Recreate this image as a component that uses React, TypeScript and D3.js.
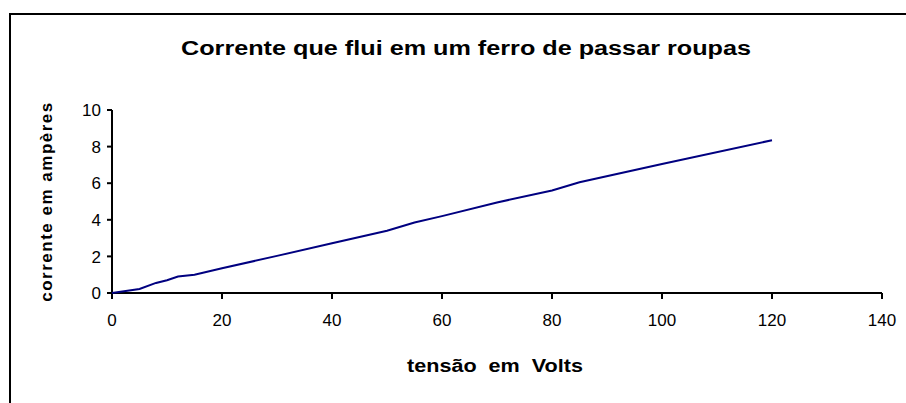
import React from "react";
import * as d3 from "d3";

const voltage = [0, 5, 8, 10, 12, 15, 20, 30, 40, 50, 55, 60, 70, 80, 85, 100, 120];
const current = [0, 0.22, 0.55, 0.7, 0.9, 1.0, 1.35, 2.03, 2.72, 3.4, 3.85, 4.2, 4.95, 5.6, 6.05, 7.05, 8.35];
const xTicks = [0, 20, 40, 60, 80, 100, 120, 140];
const yTicks = [0, 2, 4, 6, 8, 10];
const title = "Corrente que flui em um ferro de passar roupas";
const xTitle = "tensão  em  Volts";
const yTitle = "corrente em ampères";

export default function App() {
  const W = 906, H = 403;
  const x = d3.scaleLinear().domain([0, 140]).range([112, 882]);
  const y = d3.scaleLinear().domain([0, 10]).range([293, 110]);
  const pts = voltage.map((v, i) => [v, current[i]] as [number, number]);
  const line = d3.line<[number, number]>().x(d => x(d[0])).y(d => y(d[1]));
  const font = "'Liberation Sans', Arial, sans-serif";
  return (
    <svg width={W} height={H} style={{ position: "absolute", left: 0, top: 0 }} fontFamily={font}>
      <rect x={0} y={0} width={W} height={H} fill="#fff" />
      <rect x={10} y={14} width={900} height={400} fill="none" stroke="#000" strokeWidth={2} />
      <text x={466} y={55} textAnchor="middle" fontSize={20} fontWeight="bold" textLength={570} lengthAdjust="spacingAndGlyphs">{title}</text>
      <line x1={x(0)} x2={x(0)} y1={y(10)} y2={y(0)} stroke="#000" strokeWidth={2} />
      {yTicks.map(t => (
        <g key={t}>
          <line x1={x(0) - 5} x2={x(0)} y1={y(t)} y2={y(t)} stroke="#000" strokeWidth={2} />
          <text x={x(0) - 11} y={y(t)} dy="0.36em" textAnchor="end" fontSize={17}>{t}</text>
        </g>
      ))}
      <line x1={x(0)} x2={x(140)} y1={y(0)} y2={y(0)} stroke="#000" strokeWidth={2} />
      {xTicks.map(t => (
        <g key={t}>
          <line x1={x(t)} x2={x(t)} y1={y(0)} y2={y(0) + 6} stroke="#000" strokeWidth={2} />
          <text x={x(t)} y={y(0) + 33} textAnchor="middle" fontSize={17}>{t}</text>
        </g>
      ))}
      <text x={495} y={372} textAnchor="middle" fontSize={18} fontWeight="bold" textLength={176} lengthAdjust="spacingAndGlyphs" style={{ whiteSpace: "pre" }}>{xTitle}</text>
      <text transform={`translate(52,${(y(0) + y(10)) / 2}) rotate(-90)`} textAnchor="middle" fontSize={17} fontWeight="bold" letterSpacing={1.5}>{yTitle}</text>
      <path d={line(pts) || ""} fill="none" stroke="#000080" strokeWidth={2} />
    </svg>
  );
}
